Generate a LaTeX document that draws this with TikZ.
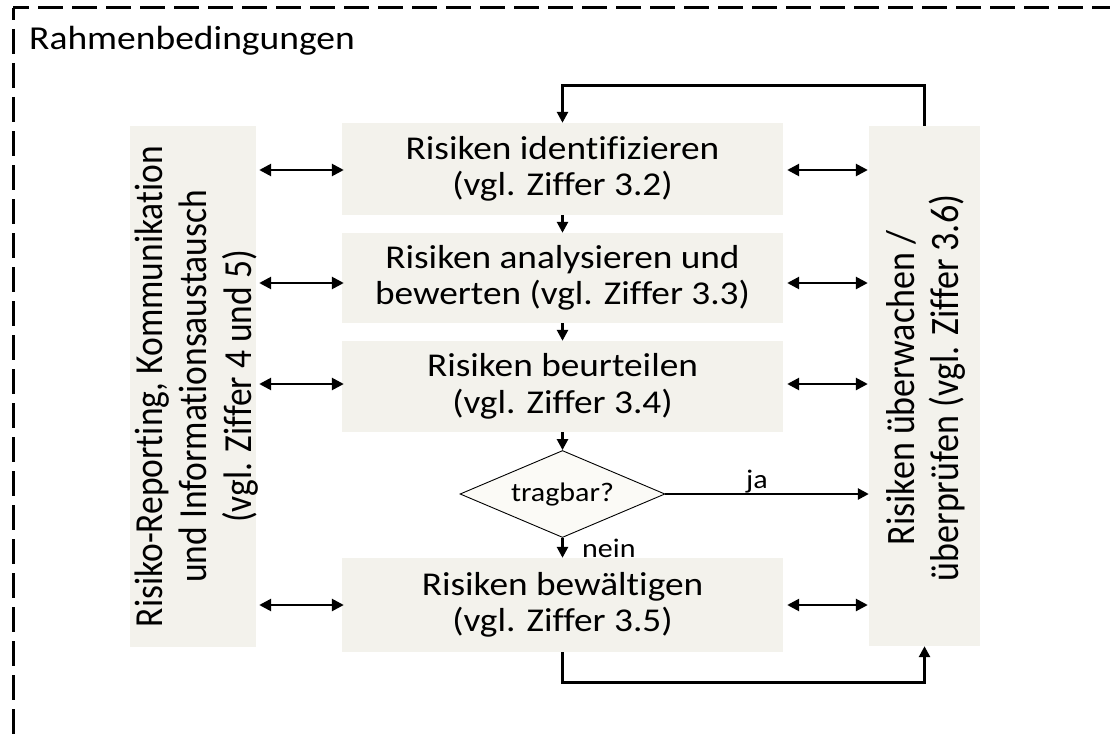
\documentclass[tikz,border=0pt]{standalone}
\usepackage{fontspec}
\setmainfont[Ligatures=NoCommon]{Carlito}
\newfontfamily\widefont[FakeStretch=1.12,Ligatures=NoCommon]{Carlito}
\usetikzlibrary{arrows.meta,shapes.geometric}
\definecolor{boxfill}{HTML}{F3F2EC}
\definecolor{diafill}{HTML}{FBFAF6}

\begin{document}
\begin{tikzpicture}[x=1pt,y=-1pt,
  stepbox/.style={fill=boxfill, draw=none, inner sep=0pt, align=center,
    font=\widefont\fontsize{33.3}{36.5}\selectfont},
  sidebox/.style={fill=boxfill, draw=none, inner sep=0pt},
  sidetext/.style={inner sep=0pt, rotate=90},
  decision/.style={diamond, fill=diafill, draw=black, line width=0.9pt, inner sep=0pt,
    aspect=2.36, minimum width=205pt, minimum height=87pt,
    font=\widefont\fontsize{26.8}{30}\selectfont},
  lbl/.style={inner sep=0pt, font=\widefont\fontsize{26.8}{30}\selectfont},
  flow/.style={line width=2.6pt, -{Triangle[length=11pt,width=11pt]}},
  twoway/.style={line width=2.6pt, {Triangle[length=12pt,width=12pt]}-{Triangle[length=12pt,width=12pt]}},
  frame/.style={line width=3pt, dash pattern=on 25pt off 9pt},
]
\useasboundingbox (0,0) rectangle (1110,733);
\clip (0,0) rectangle (1110,733);

% outer dashed frame, running past the page at right and bottom
\coordinate (corner) at (13,8);
\draw[frame, dash phase=9pt] (corner) -- (1130,8);
\draw[frame, dash phase=13pt] (corner) -- (13,760);
\node[anchor=base west, inner sep=0pt, font=\widefont\fontsize{33.5}{36}\selectfont]
  (title) at (29,50) {Rahmenbedingungen};

% process steps
\node[stepbox, minimum width=441pt, minimum height=92pt] (s1) at (562.5,169)
  {Risiken identifizieren\\(vgl. Ziffer 3.2)};
\node[stepbox, minimum width=441pt, minimum height=90pt] (s2) at (562.5,278)
  {Risiken analysieren und\\bewerten (vgl. Ziffer 3.3)};
\node[stepbox, minimum width=441pt, minimum height=91pt] (s3) at (562.5,386.5)
  {Risiken beurteilen\\(vgl. Ziffer 3.4)};
\node[decision] (d) at (562.5,494) {tragbar?};
\node[stepbox, minimum width=441pt, minimum height=94pt] (s4) at (562.5,605)
  {Risiken bewältigen\\(vgl. Ziffer 3.5)};

% side columns
\node[sidebox, minimum width=126pt, minimum height=521pt] (lb) at (193,386.5) {};
\node[sidetext] (lt) at ([xshift=5pt]lb.center) {\scalebox{1}[1.12]{\fontsize{35.5}{40}\selectfont
  \begin{tabular}{@{}c@{}}Risiko-Reporting, Kommunikation\\und Informationsaustausch\\(vgl. Ziffer 4 und 5)\end{tabular}}};
\node[sidebox, minimum width=111pt, minimum height=520pt] (rb) at (924.5,386) {};
\node[sidetext] (rt) at ([xshift=3pt,yshift=-2pt]rb.center) {\scalebox{1}[1.12]{\fontsize{36}{40}\selectfont
  \begin{tabular}{@{}c@{}}Risiken überwachen /\\überprüfen (vgl. Ziffer 3.6)\end{tabular}}};

% main flow
\draw[flow] (s1.south) -- (s2.north);
\draw[flow] (s2.south) -- (s3.north);
\draw[flow] (s3.south) -- (d.north);
\draw[flow] (d.south) -- (s4.north);
\node[lbl, anchor=base west] (nein) at (582,557) {nein};
\coordinate (jaend) at (rb.west |- d.east);
\draw[flow] (d.east) -- (jaend);
\node[lbl, anchor=base west] (ja) at (746,488) {ja};

% feedback loops
\draw[flow] (rb.north) -- ++(0,-40) -| (s1.north);
\draw[flow] (s4.south) -- ++(0,30) -| (rb.south);

% exchange with the side columns
\foreach \s/\dy in {s1/1, s2/5, s3/-2.5, s4/0} {
  \draw[twoway] ([xshift=3pt,yshift=-\dy pt]lb.east |- \s.west) -- ([xshift=2pt,yshift=-\dy pt]\s.west);
  \draw[twoway] ([xshift=4pt,yshift=-\dy pt]\s.east) -- ([xshift=-1pt,yshift=-\dy pt]rb.west |- \s.east);
}
\end{tikzpicture}
\end{document}
